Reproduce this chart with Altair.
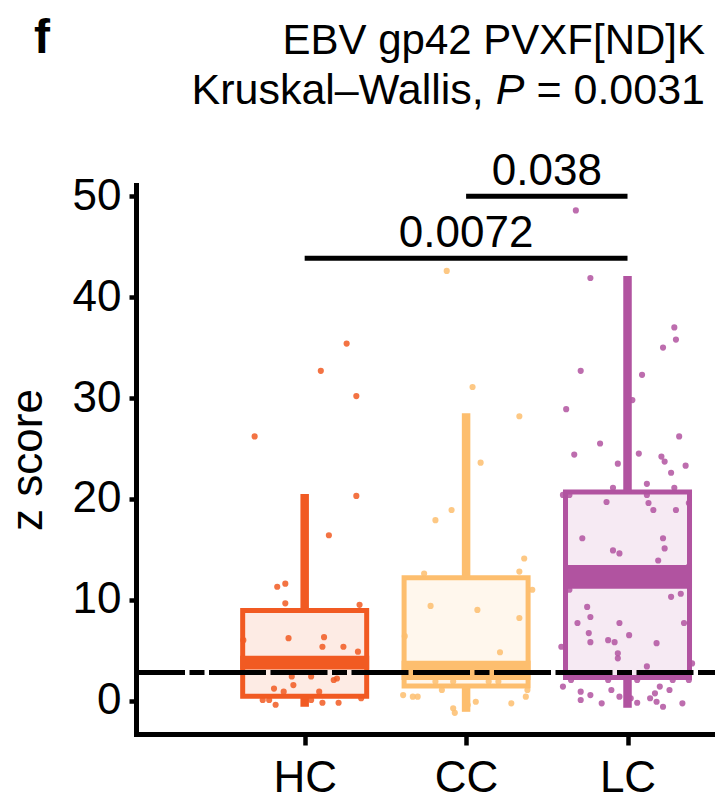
import altair as alt
import pandas as pd

FONT = "Liberation Sans, Arial, Helvetica, sans-serif"

# Groups and their colours
groups = ["HC", "CC", "LC"]
group_pos = [1, 2, 3]
colors = ["#F15A22", "#FDBE6E", "#B153A0"]

# Box summaries (z score)
whisker_low = [-0.6, -1.1, -0.7]
q1 = [0.45, 1.45, 2.3]
median_ci_low = [3.1, 2.05, 11.1]
median_ci_high = [4.45, 3.95, 13.45]
q3 = [8.95, 12.2, 20.7]
whisker_high = [20.5, 28.5, 42.1]

# Individual samples: z score and horizontal jitter within the group
hc_values = [35.4, 32.7, 30.2, 26.2, 20.3, 16.4, 11.3, 11.6, 9.65, 9.5, 6.0, 6.2,
             6.3, 5.35, 5.35, 4.86, 2.4, 2.4, 2.2, 2.05, 1.55, 1.2, 0.9, 0.9,
             0.07, -0.4, 0.07, 0.07, -0.2, -0.2, 0.25, 0.07]
hc_jitter = [0.26, 0.10, 0.32, -0.31, 0.32, 0.15, -0.17, -0.12, -0.12, 0.34, -0.38, -0.10,
             0.12, 0.11, 0.24, 0.33, -0.08, 0.04, 0.20, 0.18, -0.07, -0.19, 0.09, -0.13,
             -0.22, -0.18, 0.0, 0.04, 0.11, 0.21, 0.35, -0.26]

cc_values = [42.6, 31.1, 28.2, 23.6, 18.9, 17.9, 14.1, 12.8, 12.6, 11.0, 9.4, 9.0,
             8.2, 6.4, 4.8, 1.9, 1.9, 1.9, 1.9, 1.06, 1.06, 0.56, 0.4, 0.4,
             0.4, -0.1, -0.43, -0.75, -0.26, -1.2]
cc_jitter = [-0.12, 0.04, 0.33, 0.09, -0.09, -0.19, 0.36, 0.33, -0.26, 0.41, -0.22, 0.07,
             0.33, -0.38, 0.21, 0.14, 0.20, -0.19, -0.08, -0.15, 0.38, -0.39, -0.33, -0.30,
             0.37, 0.06, 0.01, -0.08, 0.28, -0.07]

lc_values = [48.6, 41.9, 37.0, 35.8, 35.0, 32.7, 32.3, 29.8, 28.9, 26.2, 25.5, 24.4,
             24.5, 24.2, 23.7, 23.3, 22.6, 23.5, 21.1, 21.5, 21.1, 20.4, 20.4, 19.7,
             20.4, 19.6, 18.9, 18.9, 19.6, 16.1, 16.1, 15.1, 14.9, 14.6, 13.9, 13.3,
             11.0, 10.3, 10.6, 9.3, 8.3, 7.7, 7.7, 6.5, 6.7, 5.8, 6.0, 5.8,
             5.7, 7.7, 5.35, 4.7, 4.2, 3.7, 3.4, 1.4, 2.05, 2.05, 2.05, 1.4,
             2.05, 0.9, 0.56, 0.07, -0.26, 0.24, 0.24, 0.73, -0.6, -0.26, 1.06, 2.05,
             1.06, -0.2, -0.1, 0.4]
lc_jitter = [-0.32, -0.23, 0.29, 0.30, 0.22, -0.29, 0.09, 0.03, -0.38, 0.32, -0.17, -0.33,
             0.07, 0.21, 0.23, 0.36, 0.27, -0.06, -0.09, 0.12, 0.29, -0.40, -0.36, -0.13,
             0.12, 0.13, 0.16, 0.30, 0.38, -0.28, 0.22, 0.23, -0.09, -0.05, 0.19, 0.38,
             -0.36, 0.27, 0.33, -0.25, -0.23, -0.31, -0.05, 0.01, -0.24, -0.23, -0.12, -0.08,
             0.18, 0.35, -0.41, -0.06, -0.06, 0.40, 0.12, -0.40, -0.35, -0.12, 0.06, 0.20,
             0.28, -0.29, -0.23, -0.29, -0.16, 0.02, 0.14, 0.17, 0.22, 0.34, 0.26, 0.38,
             -0.10, 0.06, 0.18, -0.05]

# Reference threshold
threshold = 2.8

# Pairwise comparisons
cmp_from = [2, 1]
cmp_to = [3, 3]
cmp_p = ["0.038", "0.0072"]
cmp_height = [50.0, 43.85]

# Overall test
title_line1 = "EBV gp42 PVXF[ND]K"
test_name = "Kruskal\u2013Wallis,"
test_p = "= 0.0031"

# ---------------------------------------------------------------- tables
boxes = pd.DataFrame({
    "group": groups, "pos": group_pos, "lo": whisker_low, "q1": q1,
    "ci_lo": median_ci_low, "ci_hi": median_ci_high, "q3": q3, "hi": whisker_high,
})

pts = []
for g, p, vals, jit in [("HC", 1, hc_values, hc_jitter),
                        ("CC", 2, cc_values, cc_jitter),
                        ("LC", 3, lc_values, lc_jitter)]:
    for v, j in zip(vals, jit):
        pts.append({"group": g, "x": p + j, "z": v})
points = pd.DataFrame(pts)

comps = pd.DataFrame({"x1": cmp_from, "x2": cmp_to, "y": cmp_height, "label": cmp_p})
comps["mid"] = (comps["x1"] + comps["x2"]) / 2

W, H = 579, 549
xscale = alt.Scale(domain=[-0.014, 3.511], nice=False, zero=False)
yscale = alt.Scale(domain=[-3.3, 51.12], nice=False, zero=False)
cscale = alt.Scale(domain=groups, range=colors)

label_expr = " : ".join(
    [f"datum.value == {p} ? '{g}'" for p, g in zip(group_pos[:-1], groups[:-1])]
) + f" : '{groups[-1]}'"

x_axis = alt.Axis(values=group_pos, labelExpr=label_expr, title=None, grid=False,
                  tickSize=11, tickWidth=4.5, domainWidth=5, domainCap="square",
                  labelPadding=11, labelFontSize=44, labelFont=FONT,
                  labelColor="black", tickColor="black", domainColor="black")
y_axis = alt.Axis(values=[0, 10, 20, 30, 40, 50], title="z score", grid=False,
                  tickSize=7, tickWidth=4.5, domainWidth=5, domainCap="square",
                  labelPadding=8, labelFontSize=44, labelFont=FONT,
                  titleFontSize=44, titleFont=FONT, titleFontWeight="normal",
                  titlePadding=22, labelColor="black", titleColor="black",
                  tickColor="black", domainColor="black")

base_box = alt.Chart(boxes)

box = base_box.mark_bar(size=124, strokeWidth=5, fillOpacity=0.12).encode(
    x=alt.X("pos:Q", scale=xscale, axis=x_axis),
    y=alt.Y("q1:Q", scale=yscale, axis=y_axis),
    y2="q3:Q",
    fill=alt.Color("group:N", scale=cscale, legend=None),
    stroke=alt.Color("group:N", scale=cscale, legend=None),
)

whisk_up = base_box.mark_rule(strokeWidth=8.5).encode(
    x="pos:Q", y="q3:Q", y2="hi:Q",
    color=alt.Color("group:N", scale=cscale, legend=None),
)
whisk_dn = base_box.mark_rule(strokeWidth=8.5).encode(
    x="pos:Q", y="lo:Q", y2="q1:Q",
    color=alt.Color("group:N", scale=cscale, legend=None),
)

dots = alt.Chart(points).mark_circle(size=38, opacity=0.85).encode(
    x="x:Q", y="z:Q",
    color=alt.Color("group:N", scale=cscale, legend=None),
)

median_band = base_box.mark_bar(size=129).encode(
    x="pos:Q", y="ci_lo:Q", y2="ci_hi:Q",
    color=alt.Color("group:N", scale=cscale, legend=None),
)

thresh = alt.Chart(pd.DataFrame({"t": [threshold]})).mark_rule(
    color="black", strokeWidth=5, strokeDash=[57, 4.5, 57, 4.5, 15, 4.5],
    strokeDashOffset=40,
).encode(y="t:Q")

brackets = alt.Chart(comps).mark_rule(color="black", strokeWidth=5).encode(
    x="x1:Q", x2="x2:Q", y="y:Q"
)
p_text = alt.Chart(comps).mark_text(
    font=FONT, fontSize=44, color="black", baseline="alphabetic", dy=-11
).encode(x="mid:Q", y="y:Q", text="label:N")

one = alt.Data(values=[{}])
t1 = alt.Chart(one).mark_text(font=FONT, fontSize=42, align="right",
                              baseline="alphabetic", color="black").encode(
    x=alt.value(569), y=alt.value(-131), text=alt.value(title_line1))
t2a = alt.Chart(one).mark_text(font=FONT, fontSize=43, align="right",
                               baseline="alphabetic", color="black").encode(
    x=alt.value(347.8), y=alt.value(-81), text=alt.value(test_name))
t2b = alt.Chart(one).mark_text(font=FONT, fontSize=43, align="right", fontStyle="italic",
                               baseline="alphabetic", color="black").encode(
    x=alt.value(388.5), y=alt.value(-81), text=alt.value("P"))
t2c = alt.Chart(one).mark_text(font=FONT, fontSize=43, align="right",
                               baseline="alphabetic", color="black").encode(
    x=alt.value(569), y=alt.value(-81), text=alt.value(test_p))
panel = alt.Chart(one).mark_text(font=FONT, fontSize=48, fontWeight="bold", align="left",
                                 baseline="alphabetic", color="black").encode(
    x=alt.value(-102), y=alt.value(-132), text=alt.value("f"))

chart = alt.layer(
    box, dots, whisk_up, whisk_dn, median_band, thresh, brackets, p_text,
    t1, t2a, t2b, t2c, panel,
).properties(
    width=W, height=H,
    autosize=alt.AutoSizeParams(type="none"),
    padding={"left": 136, "top": 185, "right": 0, "bottom": 65},
    background="white",
).configure_view(stroke=None)

chart.save("out.html", embed_options={"renderer": "svg", "actions": False})
